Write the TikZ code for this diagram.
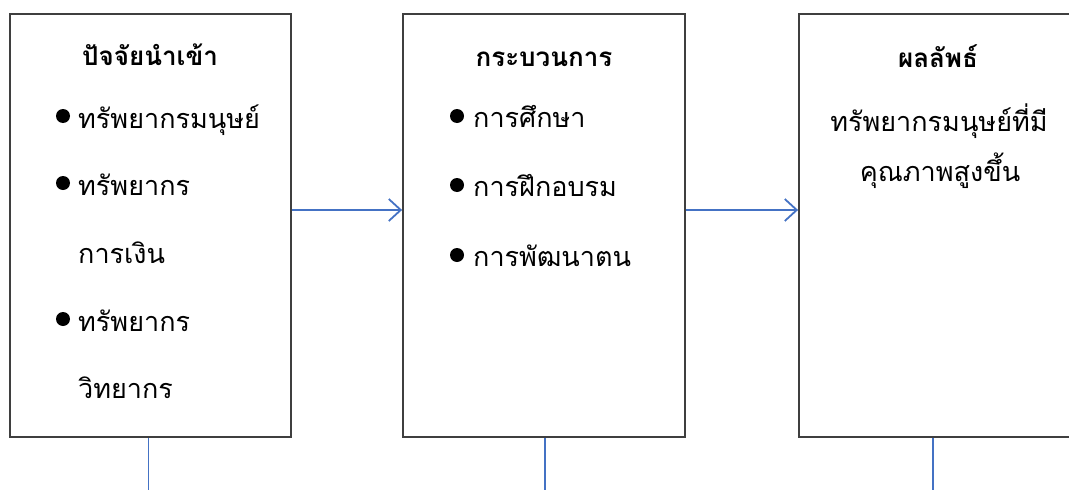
\documentclass[tikz,border=0pt]{standalone}
\usepackage{fontspec}
\usetikzlibrary{arrows.meta}
\newfontfamily\thai[Script=Thai]{Loma}
\definecolor{boxgray}{HTML}{3F3F3F}
\definecolor{wordblue}{HTML}{4472C4}
\tikzset{
  stagebox/.style={draw=boxgray, line width=1.8pt, rectangle, inner sep=0pt, minimum height=423pt},
  conn/.style={draw=wordblue, line width=1.8pt, -{Straight Barb[length=12pt,width=22pt,line width=1.8pt]}},
  stem/.style={draw=wordblue, line width=1.8pt},
  titletxt/.style={font=\thai\bfseries\fontsize{26}{30}\selectfont, anchor=base, inner sep=0pt},
  itemtxt/.style={font=\thai\fontsize{27}{30}\selectfont, anchor=base west, inner sep=0pt},
  ctrtxt/.style={font=\thai\fontsize{27}{30}\selectfont, anchor=base, inner sep=0pt},
  dot/.style={circle, fill=black, inner sep=0pt, minimum size=14pt},
}
\begin{document}
\begin{tikzpicture}[x=1pt,y=-1pt]
\useasboundingbox (0,0) rectangle (1069,490);
% boxes
\node[stagebox, minimum width=281pt] (in) at (150.5,225.5) {};
\node[stagebox, minimum width=282pt] (proc) at (544,225.5) {};
\node[stagebox, minimum width=282pt] (out) at (940,225.5) {};
% input box texts
\node[titletxt] (inT) at (150,65) {ปัจจัยนำเข้า};
\node[dot] (inB1) at (63,116) {};
\node[itemtxt] (inI1) at (78,128) {ทรัพยากรมนุษย์};
\node[dot] (inB2) at (63,183) {};
\node[itemtxt] (inI2) at (78,195) {ทรัพยากร};
\node[itemtxt] (inI2b) at (78,263) {การเงิน};
\node[dot] (inB3) at (63,319) {};
\node[itemtxt] (inI3) at (78,331) {ทรัพยากร};
\node[itemtxt] (inI3b) at (78,398) {วิทยากร};
% process box texts
\node[titletxt] (prT) at (544,66) {กระบวนการ};
\node[dot] (prB1) at (457,116) {};
\node[itemtxt] (prI1) at (473,127) {การศึกษา};
\node[dot] (prB2) at (457,185) {};
\node[itemtxt] (prI2) at (473,196) {การฝึกอบรม};
\node[dot] (prB3) at (457,255) {};
\node[itemtxt] (prI3) at (473,266) {การพัฒนาตน};
% output box texts
\node[titletxt] (ouT) at (938,67) {ผลลัพธ์};
\node[ctrtxt] (ouL1) at (939,131) {ทรัพยากรมนุษย์ที่มี};
\node[ctrtxt] (ouL2) at (940,181) {คุณภาพสูงขึ้น};
% connectors
\draw[conn] ([yshift=15.5pt]in.east) -- ([yshift=15.5pt]proc.west);
\draw[conn] ([yshift=15.5pt]proc.east) -- ([yshift=15.5pt]out.west);
\coordinate (inE) at (148.5,490);
\coordinate (prE) at (545,490);
\coordinate (ouE) at (933,490);
\draw[stem] (in.south -| inE) -- (inE);
\draw[stem] (proc.south -| prE) -- (prE);
\draw[stem] (out.south -| ouE) -- (ouE);
\end{tikzpicture}
\end{document}
